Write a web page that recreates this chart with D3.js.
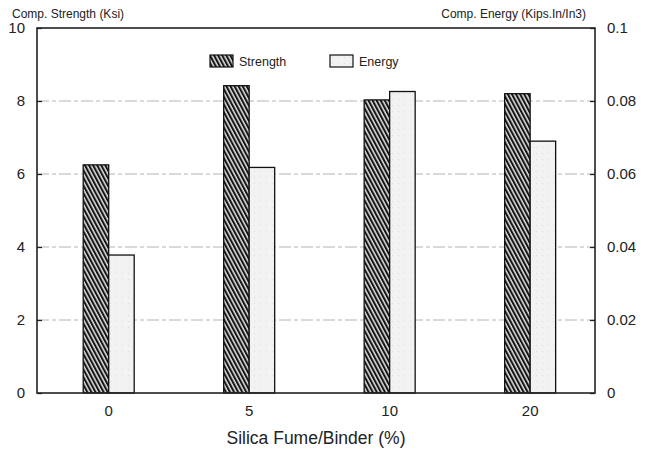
<!DOCTYPE html>
<html>
<head>
<meta charset="utf-8">
<script src="https://cdn.jsdelivr.net/npm/d3@7"></script>
<style>
  html, body { margin: 0; padding: 0; background: #fff; }
  svg { display: block; font-family: "Liberation Sans", Arial, sans-serif; }
</style>
</head>
<body>
<svg id="chart" width="646" height="452"></svg>
<script>
// Silica fume content groups and the two measured properties
const categories = ["0", "5", "10", "20"];
const strength = [6.25, 8.42, 8.03, 8.2];          // Ksi, left axis
const energy = [0.0378, 0.0618, 0.0826, 0.069];    // Kips.In/In3, right axis
const leftTicks = [0, 2, 4, 6, 8, 10];
const rightTicks = [0, 0.02, 0.04, 0.06, 0.08, 0.1];
const seriesNames = ["Strength", "Energy"];

const svg = d3.select("#chart");
const m = { left: 37, right: 595, top: 28, bottom: 393 };

// Hatch pattern for strength bars, light fill for energy bars
const defs = svg.append("defs");
const hatch = defs.append("pattern")
  .attr("id", "hatch").attr("patternUnits", "userSpaceOnUse")
  .attr("width", 3.6).attr("height", 4)
  .attr("patternTransform", "rotate(-28)");
hatch.append("rect").attr("width", 3.6).attr("height", 4).attr("fill", "#e4e4e4");
hatch.append("rect").attr("width", 2.1).attr("height", 4).attr("fill", "#161616");

const dots = defs.append("pattern")
  .attr("id", "dots").attr("patternUnits", "userSpaceOnUse")
  .attr("width", 6).attr("height", 6);
dots.append("rect").attr("width", 6).attr("height", 6).attr("fill", "#f2f2f2");
dots.append("rect").attr("x", 2).attr("y", 3).attr("width", 1).attr("height", 1).attr("fill", "#dddddd");

const x = d3.scaleBand().domain(categories).range([m.left, m.right])
  .paddingInner(0.637).paddingOuter(0.3045).align(0.54);
const yL = d3.scaleLinear().domain([0, 10]).range([m.bottom, m.top]);
const yR = d3.scaleLinear().domain([0, 0.1]).range([m.bottom, m.top]);
const half = x.bandwidth() / 2;

// Dashed horizontal gridlines
svg.append("g").selectAll("line")
  .data(leftTicks.filter(t => t > 0 && t < 10))
  .join("line")
  .attr("x1", m.left).attr("x2", m.right)
  .attr("y1", d => yL(d)).attr("y2", d => yL(d))
  .attr("stroke", "#b4b4b4").attr("stroke-width", 1)
  .attr("stroke-dasharray", "12,3,4,3");

// Bars
const g = svg.append("g");
g.selectAll("rect.s").data(categories).join("rect").attr("class", "s")
  .attr("x", d => x(d)).attr("width", half)
  .attr("y", (d, i) => yL(strength[i]))
  .attr("height", (d, i) => yL(0) - yL(strength[i]))
  .attr("fill", "url(#hatch)").attr("stroke", "#111").attr("stroke-width", 1.3);
g.selectAll("rect.e").data(categories).join("rect").attr("class", "e")
  .attr("x", d => x(d) + half).attr("width", half)
  .attr("y", (d, i) => yR(energy[i]))
  .attr("height", (d, i) => yR(0) - yR(energy[i]))
  .attr("fill", "url(#dots)").attr("stroke", "#111").attr("stroke-width", 1.3);

// Frame and axes
const axisStyle = sel => {
  sel.select(".domain").remove();
  sel.selectAll("text").attr("font-size", 15).attr("fill", "#222");
  sel.selectAll(".tick line").attr("stroke", "#222").attr("stroke-width", 1.3);
};
svg.append("g").attr("transform", `translate(${m.left},0)`)
  .call(d3.axisLeft(yL).tickValues(leftTicks).tickSize(-5).tickPadding(12)
    .tickFormat(d3.format("d")))
  .call(axisStyle);
svg.append("g").attr("transform", `translate(${m.right},0)`)
  .call(d3.axisRight(yR).tickValues(rightTicks).tickSize(-5).tickPadding(12)
    .tickFormat(d => d === 0 ? "0" : String(+d.toFixed(2))))
  .call(axisStyle);
svg.append("g").attr("transform", `translate(0,${m.bottom})`)
  .call(d3.axisBottom(x).tickSize(0).tickPadding(12))
  .call(axisStyle);

svg.append("rect")
  .attr("x", m.left).attr("y", m.top)
  .attr("width", m.right - m.left).attr("height", m.bottom - m.top)
  .attr("fill", "none").attr("stroke", "#222").attr("stroke-width", 1.6);

// Axis titles
svg.append("text").attr("x", 12).attr("y", 18).attr("font-size", 12)
  .attr("fill", "#222").text("Comp. Strength (Ksi)");
svg.append("text").attr("x", 586).attr("y", 18).attr("font-size", 12)
  .attr("text-anchor", "end").attr("fill", "#222").text("Comp. Energy (Kips.In/In3)");
svg.append("text").attr("x", 316).attr("y", 444).attr("font-size", 17.5)
  .attr("text-anchor", "middle").attr("fill", "#222").text("Silica Fume/Binder (%)");

// Legend
const legend = svg.append("g");
const legendX = [210, 330];
const fills = ["url(#hatch)", "url(#dots)"];
seriesNames.forEach((name, i) => {
  legend.append("rect").attr("x", legendX[i]).attr("y", 55)
    .attr("width", 23).attr("height", 12)
    .attr("fill", fills[i]).attr("stroke", "#111").attr("stroke-width", 1.2);
  legend.append("text").attr("x", legendX[i] + 29).attr("y", 66)
    .attr("font-size", 12.5).attr("fill", "#222").text(name);
});
</script>
</body>
</html>
